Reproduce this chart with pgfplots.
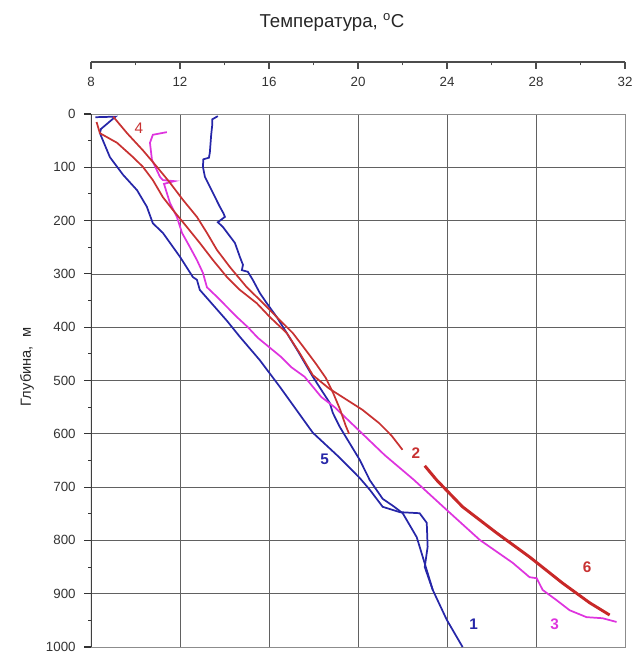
\documentclass[border=0pt]{standalone}
\usepackage{fontspec}
\setmainfont{Liberation Sans}
\usepackage{pgfplots}
\pgfplotsset{compat=1.18}
\definecolor{cblue}{RGB}{38,38,168}
\definecolor{cmag}{RGB}{222,52,222}
\definecolor{cred}{RGB}{200,50,50}
\definecolor{cred6}{RGB}{200,40,40}
\begin{document}
\begin{tikzpicture}
\begin{axis}[
  name=main, at={(0,0)}, anchor=south west,
  scale only axis, width=400.5pt, height=399.75pt,
  xmin=8, xmax=32, ymin=0, ymax=1000, y dir=reverse,
  xtick={12,16,20,24,28}, xticklabels={},
  ytick={0,100,...,1000}, minor ytick={50,150,...,950},
  ytick pos=left,
  grid=major, major grid style={black!62, line width=0.6pt},
  axis line style={black!45, line width=0.6pt},
  tick align=outside,
  x tick style={draw=none},
  y tick style={black!80, line width=0.8pt},
  major tick length=5pt, minor tick length=2pt,
  /pgf/number format/assume math mode=true,
  /pgf/number format/1000 sep={},
  yticklabel style={font=\fontsize{10}{12}\selectfont, text=black!80, xshift=-3pt},
]
\addplot[cblue, line width=1.3pt] coordinates {
(13.7,4) (13.45,10) (13.45,20) (13.4,40) (13.34,73) (13.3,82) (13.05,85) (13.03,99)
(13.12,118) (13.48,148) (13.79,174) (13.95,186) (14.02,193) (13.7,203) (13.93,212)
(14.47,242) (14.69,268) (14.83,283) (14.78,293) (15.05,296) (15.27,311) (15.59,336)
(15.90,355) (16.35,381) (16.80,411) (17.3,445) (17.97,493) (18.73,542) (18.87,561)
(19.18,587) (20.08,649) (20.53,687) (21.11,722) (21.6,736) (22.01,749) (22.64,794)
(22.91,831) (23.36,893) (23.99,949) (24.70,1000)};
\addplot[cblue, line width=1.3pt] coordinates {
(8.2,6) (9.1,5) (8.45,28) (8.40,36) (8.85,81) (9.44,114) (10.07,143) (10.51,174)
(10.78,205) (11.23,223) (12.00,268) (12.58,306) (12.76,311) (12.89,330) (13.48,358)
(14.11,388) (14.69,418) (15.59,462) (16.49,512) (17.97,598) (19.18,645) (20.08,683)
(20.53,705) (21.11,737) (21.88,747) (22.77,749) (23.09,767) (23.13,812) (23.0,850)
(23.36,893)};
\addplot[cmag, line width=1.3pt] coordinates {
(11.41,34) (10.78,39) (10.65,54) (10.74,86) (11.10,118) (11.23,124) (11.75,126)
(11.28,131) (11.55,167) (11.86,193) (12.09,223) (12.45,250) (12.76,274) (13.03,298)
(13.21,325) (13.66,343) (14.11,362) (14.56,381) (15.05,400) (15.5,420) (16.55,456)
(17.0,475) (17.6,493) (18.35,531) (18.95,550) (19.55,574) (20.2,600) (21.2,640)
(22.5,686) (23.99,743) (25.47,799) (26.95,842) (27.71,869) (28.03,871) (28.30,893)
(28.92,912) (29.51,931) (30.27,944) (30.99,946) (31.62,953)};
\addplot[cred, line width=1.3pt] coordinates {
(9.0,5) (9.62,36) (10.33,68) (10.96,99) (11.55,129) (12.13,161) (12.76,193)
(13.21,223) (13.66,255) (14.24,287) (15.00,325) (15.59,349) (16.35,381) (17.07,411)
(17.6,440) (18.1,468) (18.55,495) (18.9,525) (19.2,555) (19.45,585) (19.6,600)};
\addplot[cred, line width=1.3pt] coordinates {
(8.25,15) (8.40,36) (9.17,54) (9.89,81) (10.33,99) (10.78,124) (11.23,156)
(11.68,180) (12.31,212) (12.89,242) (13.48,274) (14.11,306) (14.69,330) (15.45,355)
(16.04,381) (16.80,411) (17.4,450) (17.97,490) (18.7,515) (19.45,535) (20.2,555)
(20.95,580) (21.5,603) (22.0,630)};
\addplot[cred6, line width=2.2pt] coordinates {
(23.0,660) (23.54,687) (24.70,737) (26.23,786) (27.71,831) (29.19,880) (30.41,917) (31.31,940)};
\draw[black!75, line width=1.4pt] (rel axis cs:0,0) -- (rel axis cs:0,1);
\node[text=cblue, font=\bfseries\fontsize{11.5}{12}\selectfont] at (axis cs:25.2,957) {1};
\node[text=cred, font=\bfseries\fontsize{11.5}{12}\selectfont] at (axis cs:22.6,636) {2};
\node[text=cmag, font=\bfseries\fontsize{11.5}{12}\selectfont] at (axis cs:28.84,957) {3};
\node[text=cred, font=\fontsize{11.5}{12}\selectfont] at (axis cs:10.15,27) {4};
\node[text=cblue, font=\bfseries\fontsize{11.5}{12}\selectfont] at (axis cs:18.5,648) {5};
\node[text=cred, font=\bfseries\fontsize{11.5}{12}\selectfont] at (axis cs:30.3,850) {6};
\end{axis}
\begin{axis}[
  at={(0pt,438.75pt)}, anchor=south west,
  scale only axis, width=400.5pt, height=10pt,
  xmin=8, xmax=32, ymin=0, ymax=1,
  axis x line*=bottom, axis y line=none,
  xtick={8,12,...,32}, minor xtick={10,14,...,30},
  tick align=outside, major tick length=5pt, minor tick length=2.5pt,
  x axis line style={black!70, line width=0.9pt},
  xtick style={black!70, line width=0.8pt},
  /pgf/number format/assume math mode=true,
  xticklabel style={font=\fontsize{10}{12}\selectfont, text=black!80, yshift=-3pt},
]
\addplot[draw=none] coordinates {(8,0) (32,0)};
\end{axis}
\node[font=\fontsize{14}{16}\selectfont, text=black!85] at (180.75pt,468.75pt) {Температура, \textsuperscript{o}C};
\node[font=\fontsize{11}{12}\selectfont, text=black!85, rotate=90] at (-48pt,210pt) {Глубина,\ \ м};
\pgfresetboundingbox
\path[use as bounding box] (-68.25pt,-4.5pt) rectangle (405.75pt,485.25pt);
\end{tikzpicture}
\end{document}
